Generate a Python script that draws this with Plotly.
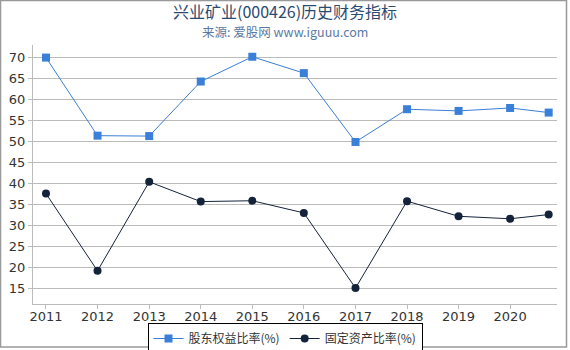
import plotly.graph_objects as go

dates = ["2011-01-01", "2012-01-01", "2013-01-01", "2014-01-01", "2015-01-01",
         "2016-01-01", "2017-01-01", "2018-01-01", "2019-01-01", "2020-01-01", "2020-09-30"]
equity_ratio = [69.9, 51.3, 51.2, 64.2, 70.1, 66.2, 49.8, 57.6, 57.2, 57.9, 56.8]
fixed_asset_ratio = [37.5, 19.1, 40.3, 35.6, 35.8, 32.9, 15.0, 35.7, 32.1, 31.5, 32.5]
tick_vals = [f"{y}-01-01" for y in range(2011, 2021)]
tick_text = [str(y) for y in range(2011, 2021)]

W, H = 570, 350
ml, mr, mt, mb = 33, 13, 45, 46
pw, ph = W - ml - mr, H - mt - mb


def py(p):
    return (H - mb - p) / ph


xc = 0.5 - (ml - mr) / 2 / pw

fig = go.Figure()
fig.add_trace(go.Scatter(x=dates, y=equity_ratio, mode="lines+markers", name="股东权益比率(%)",
                         line=dict(color="#3a7fd8", width=1),
                         marker=dict(symbol="square", size=8, color="#3a7fd8")))
fig.add_trace(go.Scatter(x=dates, y=fixed_asset_ratio, mode="lines+markers", name="固定资产比率(%)",
                         line=dict(color="#14233a", width=1),
                         marker=dict(symbol="circle", size=8, color="#14233a")))

fig.update_layout(
    width=W, height=H,
    margin=dict(l=ml, r=mr, t=mt, b=mb, autoexpand=False),
    paper_bgcolor="white", plot_bgcolor="white",
    font=dict(family="DejaVu Sans, Noto Sans CJK SC", size=13, color="#333"),
    annotations=[
        dict(text="兴业矿业(000426)历史财务指标", xref="paper", yref="paper", x=xc,
             y=py(11), xanchor="center", yanchor="middle", showarrow=False, borderpad=0,
             font=dict(size=16, color="#2b4a70", family="Noto Sans CJK SC, DejaVu Sans")),
        dict(text="来源: 爱股网 www.iguuu.com", xref="paper", yref="paper", x=xc,
             y=py(31), xanchor="center", yanchor="middle", showarrow=False, borderpad=0,
             font=dict(size=12.5, color="#5a7aa5", family="Noto Sans CJK SC, DejaVu Sans")),
    ],
    showlegend=True,
    legend=dict(orientation="h", x=xc, xanchor="center", yref="paper",
                y=py(323), yanchor="top",
                bordercolor="#000", borderwidth=1, font=dict(size=12, family="Noto Sans CJK SC, DejaVu Sans"),
                itemwidth=30, tracegroupgap=0),
    xaxis=dict(type="date", range=["2010-10-01", "2020-11-28"], tickvals=tick_vals, ticktext=tick_text,
               showgrid=False, showline=True, linecolor="#bbb", ticks="outside", ticklen=4,
               tickcolor="#bbb", tickfont=dict(size=13, color="#333"), zeroline=False,
               ticklabelstandoff=-4),
    yaxis=dict(range=[11.2, 72.9], dtick=5, tick0=0, showgrid=True, gridcolor="#bbb", gridwidth=1,
               showline=True, linecolor="#bbb", ticks="outside", ticklen=4, tickcolor="#bbb",
               tickfont=dict(size=13, color="#333"), zeroline=False),
    shapes=[dict(type="rect", xref="paper", yref="paper",
                 x0=-(ml - 0.5) / pw, x1=(W - ml - 3.5) / pw,
                 y0=py(347), y1=py(0.5),
                 line=dict(color="#999", width=1.5))],
)
fig.write_html("out.html")
